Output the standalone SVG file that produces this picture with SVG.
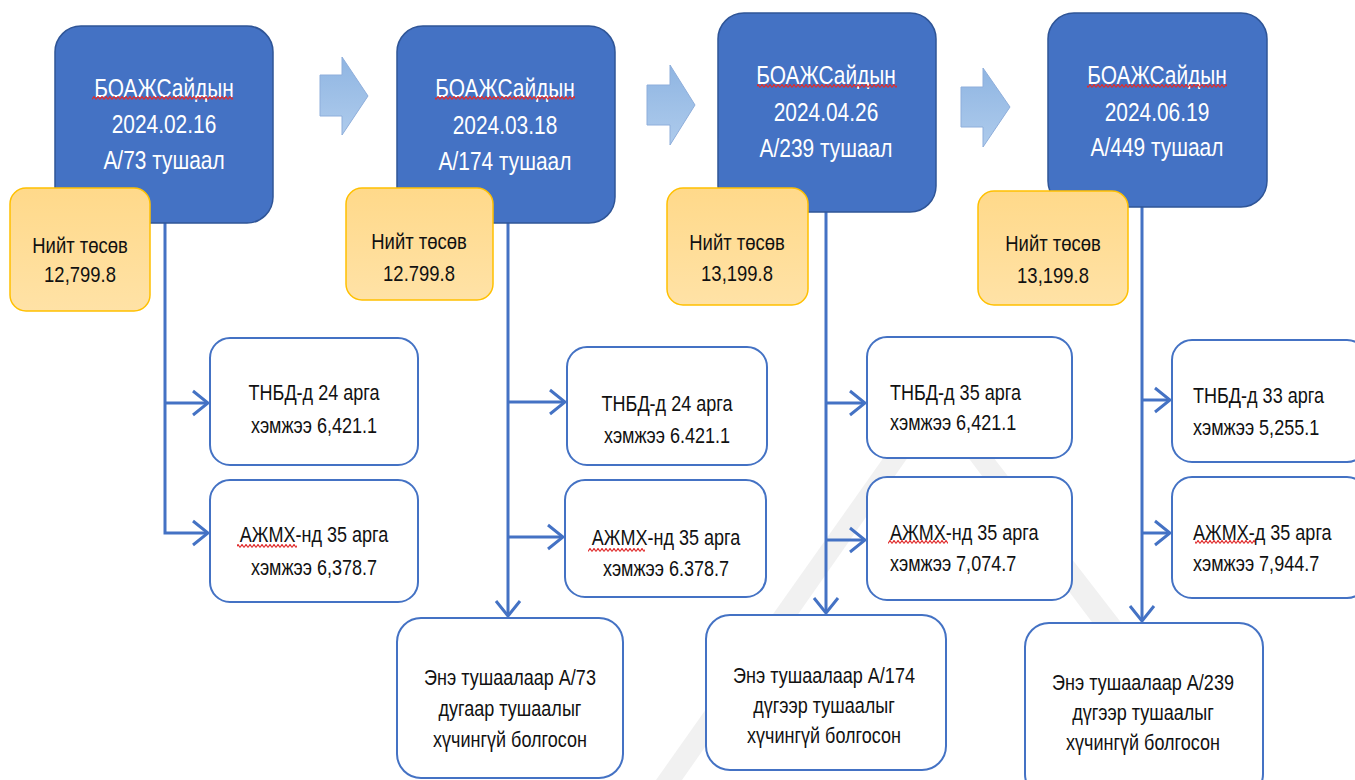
<svg xmlns="http://www.w3.org/2000/svg" width="1355" height="780" viewBox="0 0 1355 780">
<defs>
<style>
.blue{fill:#4472C4;stroke:#2F5597;stroke-width:1.5}
.orange{fill:url(#og);stroke:#FFC000;stroke-width:1.5}
.white{fill:#FFFFFF;stroke:#4472C4;stroke-width:2}
.conn{fill:none;stroke:#4472C4;stroke-width:3}
.barrow{fill:url(#bg);stroke:#8EAEDB;stroke-width:1}
.tw{font-family:"Liberation Sans",Arial,sans-serif;font-size:25.5px;fill:#FFFFFF;text-anchor:middle}
.to{font-family:"Liberation Sans",Arial,sans-serif;font-size:22.5px;fill:#111111;text-anchor:middle}
.tb{font-family:"Liberation Sans",Arial,sans-serif;font-size:22px;fill:#111111;text-anchor:middle}
.tl{font-family:"Liberation Sans",Arial,sans-serif;font-size:22px;fill:#111111;text-anchor:start}
.wm{fill:#F1F1F1}
</style>
<linearGradient id="og" x1="0" y1="0" x2="0" y2="1">
<stop offset="0" stop-color="#FFD98A"/>
<stop offset="1" stop-color="#FFE2A6"/>
</linearGradient>
<linearGradient id="bg" x1="0" y1="0" x2="0" y2="1">
<stop offset="0" stop-color="#8FB5E2"/>
<stop offset="1" stop-color="#AECBEC"/>
</linearGradient>
<pattern id="sq" width="4" height="4" patternUnits="userSpaceOnUse">
<path d="M0,3.5 L2,0.5 L4,3.5" fill="none" stroke="#E02B2B" stroke-width="1.2"/>
</pattern>
<marker id="ah" viewBox="-17 -14 19 28" refX="0" refY="0" markerWidth="19" markerHeight="28" markerUnits="userSpaceOnUse" orient="auto">
<path d="M-15,-12 L0,0 L-15,12" fill="none" stroke="#4472C4" stroke-width="3"/>
</marker>
</defs>
<rect width="1355" height="780" fill="#FFFFFF"/>

<g id="watermark">
<polygon class="wm" points="896,440 920,440 682,780 656,780"/>
<polygon class="wm" points="955,440 980,440 1150,660 1128,670"/>
</g>

<g id="block-arrows">
<polygon class="barrow" points="320,75 342,75 342,57 368,96 342,135 342,116 320,116"/>
<polygon class="barrow" points="647,85 670,85 670,65 695,105 670,145 670,125 647,125"/>
<polygon class="barrow" points="961,87 983,87 983,68 1010,107 983,147 983,127 961,127"/>
</g>

<g id="connectors">
<path class="conn" d="M165,223 V533 H208" marker-end="url(#ah)"/>
<path class="conn" d="M165,403 H208" marker-end="url(#ah)"/>
<path class="conn" d="M508,223 V616" marker-end="url(#ah)"/>
<path class="conn" d="M508,402 H565" marker-end="url(#ah)"/>
<path class="conn" d="M508,537 H563" marker-end="url(#ah)"/>
<path class="conn" d="M826,212 V613" marker-end="url(#ah)"/>
<path class="conn" d="M826,403 H865" marker-end="url(#ah)"/>
<path class="conn" d="M826,540 H865" marker-end="url(#ah)"/>
<path class="conn" d="M1142,207 V621" marker-end="url(#ah)"/>
<path class="conn" d="M1142,400 H1170" marker-end="url(#ah)"/>
<path class="conn" d="M1142,533 H1170" marker-end="url(#ah)"/>
</g>

<g id="order1">
<rect class="blue" x="55" y="26" width="218" height="197" rx="26"/>
<text class="tw" transform="translate(164,0) scale(0.82,1)"><tspan x="0" y="97">БОАЖСайдын</tspan><tspan x="0" y="133">2024.02.16</tspan><tspan x="0" y="169">А/73 тушаал</tspan></text>
<rect x="92" y="96" width="141" height="4" fill="url(#sq)"/>
</g>
<g id="order2">
<rect class="blue" x="397" y="26" width="218" height="197" rx="26"/>
<text class="tw" transform="translate(505,0) scale(0.82,1)"><tspan x="0" y="97">БОАЖСайдын</tspan><tspan x="0" y="134">2024.03.18</tspan><tspan x="0" y="170">А/174 тушаал</tspan></text>
<rect x="435" y="96" width="140" height="4" fill="url(#sq)"/>
</g>
<g id="order3">
<rect class="blue" x="718" y="13" width="218" height="199" rx="26"/>
<text class="tw" transform="translate(826,0) scale(0.82,1)"><tspan x="0" y="84">БОАЖСайдын</tspan><tspan x="0" y="121">2024.04.26</tspan><tspan x="0" y="157">А/239 тушаал</tspan></text>
<rect x="757" y="84" width="140" height="4" fill="url(#sq)"/>
</g>
<g id="order4">
<rect class="blue" x="1048" y="13" width="219" height="194" rx="26"/>
<text class="tw" transform="translate(1157,0) scale(0.82,1)"><tspan x="0" y="84">БОАЖСайдын</tspan><tspan x="0" y="121">2024.06.19</tspan><tspan x="0" y="156">А/449 тушаал</tspan></text>
<rect x="1087" y="84" width="140" height="4" fill="url(#sq)"/>
</g>

<g id="budget1">
<rect class="orange" x="10" y="188" width="140" height="123" rx="16"/>
<text class="to" transform="translate(80,0) scale(0.82,1)"><tspan x="0" y="253">Нийт төсөв</tspan><tspan x="0" y="282">12,799.8</tspan></text>
</g>
<g id="budget2">
<rect class="orange" x="346" y="188" width="147" height="112" rx="16"/>
<text class="to" transform="translate(419,0) scale(0.82,1)"><tspan x="0" y="249">Нийт төсөв</tspan><tspan x="0" y="281">12.799.8</tspan></text>
</g>
<g id="budget3">
<rect class="orange" x="667" y="188" width="141" height="117" rx="16"/>
<text class="to" transform="translate(737,0) scale(0.82,1)"><tspan x="0" y="250">Нийт төсөв</tspan><tspan x="0" y="281">13,199.8</tspan></text>
</g>
<g id="budget4">
<rect class="orange" x="978" y="191" width="150" height="114" rx="16"/>
<text class="to" transform="translate(1053,0) scale(0.82,1)"><tspan x="0" y="251">Нийт төсөв</tspan><tspan x="0" y="283">13,199.8</tspan></text>
</g>

<g id="tnbd1">
<rect class="white" x="210" y="338" width="208" height="127" rx="20"/>
<text class="tb" transform="translate(314,0) scale(0.82,1)"><tspan x="0" y="400">ТНБД-д 24 арга</tspan><tspan x="0" y="433">хэмжээ 6,421.1</tspan></text>
</g>
<g id="azhmh1">
<rect class="white" x="210" y="480" width="208" height="122" rx="20"/>
<text class="tb" transform="translate(314,0) scale(0.82,1)"><tspan x="0" y="542">АЖМХ-нд 35 арга</tspan><tspan x="0" y="575">хэмжээ 6,378.7</tspan></text>
<rect x="237" y="544" width="60" height="4" fill="url(#sq)"/>
</g>
<g id="tnbd2">
<rect class="white" x="567" y="347" width="200" height="118" rx="20"/>
<text class="tb" transform="translate(667,0) scale(0.82,1)"><tspan x="0" y="411">ТНБД-д 24 арга</tspan><tspan x="0" y="443">хэмжээ 6.421.1</tspan></text>
</g>
<g id="azhmh2">
<rect class="white" x="565" y="480" width="201" height="117" rx="20"/>
<text class="tb" transform="translate(666,0) scale(0.82,1)"><tspan x="0" y="545">АЖМХ-нд 35 арга</tspan><tspan x="0" y="576">хэмжээ 6.378.7</tspan></text>
<rect x="588" y="548" width="57" height="4" fill="url(#sq)"/>
</g>
<g id="tnbd3">
<rect class="white" x="867" y="337" width="205" height="121" rx="20"/>
<text class="tl" transform="translate(890,0) scale(0.82,1)"><tspan x="0" y="400">ТНБД-д 35 арга</tspan><tspan x="0" y="430">хэмжээ 6,421.1</tspan></text>
</g>
<g id="azhmh3">
<rect class="white" x="867" y="477" width="205" height="123" rx="20"/>
<text class="tl" transform="translate(890,0) scale(0.82,1)"><tspan x="0" y="540">АЖМХ-нд 35 арга</tspan><tspan x="0" y="571">хэмжээ 7,074.7</tspan></text>
<rect x="888" y="540" width="60" height="4" fill="url(#sq)"/>
</g>
<g id="tnbd4">
<rect class="white" x="1172" y="340" width="195" height="122" rx="20"/>
<text class="tl" transform="translate(1193,0) scale(0.82,1)"><tspan x="0" y="403">ТНБД-д 33 арга</tspan><tspan x="0" y="435">хэмжээ 5,255.1</tspan></text>
</g>
<g id="azhmh4">
<rect class="white" x="1172" y="477" width="195" height="121" rx="20"/>
<text class="tl" transform="translate(1193,0) scale(0.82,1)"><tspan x="0" y="540">АЖМХ-д 35 арга</tspan><tspan x="0" y="571">хэмжээ 7,944.7</tspan></text>
<rect x="1195" y="540" width="60" height="4" fill="url(#sq)"/>
</g>

<g id="revoke1">
<rect class="white" x="397" y="618" width="226" height="160" rx="24"/>
<text class="tb" transform="translate(510,0) scale(0.82,1)"><tspan x="0" y="685">Энэ тушаалаар А/73</tspan><tspan x="0" y="716">дугаар тушаалыг</tspan><tspan x="0" y="747">хүчингүй болгосон</tspan></text>
</g>
<g id="revoke2">
<rect class="white" x="706" y="615" width="240" height="155" rx="24"/>
<text class="tb" transform="translate(824,0) scale(0.82,1)"><tspan x="0" y="683">Энэ тушаалаар А/174</tspan><tspan x="0" y="713">дүгээр тушаалыг</tspan><tspan x="0" y="743">хүчингүй болгосон</tspan></text>
</g>
<g id="revoke3">
<rect class="white" x="1025" y="623" width="238" height="175" rx="24"/>
<text class="tb" transform="translate(1143,0) scale(0.82,1)"><tspan x="0" y="690">Энэ тушаалаар А/239</tspan><tspan x="0" y="720">дүгээр тушаалыг</tspan><tspan x="0" y="750">хүчингүй болгосон</tspan></text>
</g>
</svg>
